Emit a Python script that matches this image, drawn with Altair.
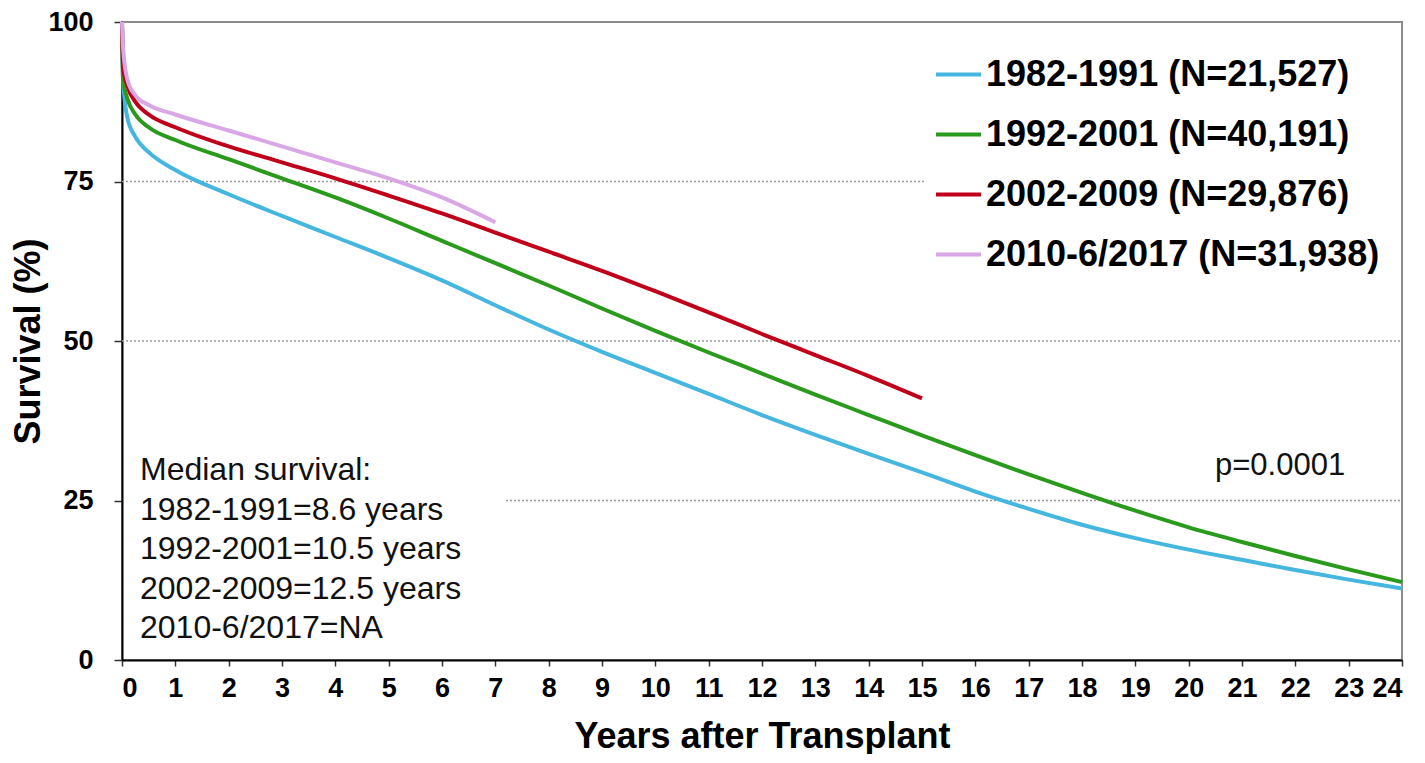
import altair as alt
import pandas as pd

# ---- data ----
series_names = [
    "1982-1991 (N=21,527)",
    "1992-2001 (N=40,191)",
    "2002-2009 (N=29,876)",
    "2010-6/2017 (N=31,938)",
]
series_colors = ["#45B6E0", "#2A9A1C", "#C0001A", "#D9A6E6"]
series_widths = [4, 4, 4, 3]

blue_x = [0, 0.02, 0.1, 0.25, 0.5, 1, 2, 3, 4, 5, 6, 7, 8, 9, 10, 11, 12, 13, 14, 15, 16, 17, 18, 19, 20, 21, 22, 23, 24]
blue_y = [100, 91, 85, 82, 79.6, 76.8, 73, 69.6, 66.3, 63, 59.5, 55.6, 51.8, 48.3, 45, 41.7, 38.4, 35.3, 32.3, 29.4, 26.4, 23.7, 21.2, 19.1, 17.3, 15.7, 14.1, 12.6, 11.2]

green_x = [0, 0.02, 0.1, 0.25, 0.5, 1, 2, 3, 4, 5, 6, 7, 8, 9, 10, 11, 12, 13, 14, 15, 16, 17, 18, 19, 20, 21, 22, 23, 24]
green_y = [100, 91, 88, 85.5, 83.5, 81.5, 78.5, 75.5, 72.5, 69.2, 65.7, 62.2, 58.7, 55.1, 51.6, 48.2, 44.9, 41.6, 38.4, 35.2, 32.1, 29.1, 26.2, 23.4, 20.8, 18.5, 16.3, 14.2, 12.2]

red_x = [0, 0.02, 0.1, 0.25, 0.5, 1, 2, 3, 4, 5, 6, 7, 8, 9, 10, 11, 12, 13, 14, 15]
red_y = [100, 93, 90, 87.5, 85.5, 83.5, 80.5, 78, 75.5, 72.8, 70, 67, 64, 61, 57.8, 54.5, 51.1, 47.8, 44.5, 41]

pink_x = [0, 0.02, 0.1, 0.25, 0.5, 1, 2, 3, 4, 5, 6, 7]
pink_y = [100, 96, 91, 88.5, 87, 85.5, 83, 80.5, 78, 75.5, 72.5, 68.6]

grid_values = [25, 50, 75]
grid_start = [7.2, 0, 0]
grid_end = [24, 24, 15.06]

median_text = "Median survival:\n1982-1991=8.6 years\n1992-2001=10.5 years\n2002-2009=12.5 years\n2010-6/2017=NA"
p_text = "p=0.0001"

x_ticks = list(range(0, 25))
y_ticks = [0, 25, 50, 75, 100]

# ---- build tables ----
rows = []
for name, xs, ys in zip(series_names, [blue_x, green_x, red_x, pink_x], [blue_y, green_y, red_y, pink_y]):
    for i, (a, b) in enumerate(zip(xs, ys)):
        rows.append({"series": name, "years": a, "survival": b, "order": i})
df = pd.DataFrame(rows)
grid_df = pd.DataFrame({"y": grid_values, "x0": grid_start, "x1": grid_end})

W, H = 1280, 638
FONT = "Liberation Sans"

xscale = alt.Scale(domain=[0, 24], nice=False, zero=False)
yscale = alt.Scale(domain=[0, 100], nice=False)

grid = alt.Chart(grid_df).mark_rule(color="#9a9a9a", strokeWidth=1.6, strokeDash=[2, 2]).encode(
    x=alt.X("x0:Q", scale=xscale),
    x2="x1:Q",
    y=alt.Y("y:Q", scale=yscale),
)

lines = alt.Chart(df).mark_line(interpolate="monotone").encode(
    x=alt.X(
        "years:Q",
        scale=xscale,
        axis=alt.Axis(
            values=x_ticks, title="Years after Transplant", grid=False,
            labelFontSize=27, labelFont=FONT, labelFontWeight="bold", labelColor="black",
            tickSize=6, tickColor="#333", tickWidth=1.5, labelPadding=9,
            domainColor="black", domainWidth=2,
            titleFontSize=36, titleFont=FONT, titleFontWeight="bold", titleColor="black",
            titlePadding=18,
        ),
    ),
    y=alt.Y(
        "survival:Q",
        scale=yscale,
        axis=alt.Axis(
            values=y_ticks, title="Survival (%)", grid=False,
            labelFontSize=27, labelFont=FONT, labelFontWeight="bold", labelColor="black",
            tickSize=8, tickColor="#333", tickWidth=1.5, labelPadding=21,
            domainColor="black", domainWidth=2,
            titleFontSize=36, titleFont=FONT, titleFontWeight="bold", titleColor="black",
            titlePadding=0,
        ),
    ),
    color=alt.Color(
        "series:N",
        scale=alt.Scale(domain=series_names, range=series_colors),
        sort=series_names,
        legend=alt.Legend(
            orient="none", legendX=800, legendY=16, title=None,
            symbolType="stroke", symbolSize=2025, symbolStrokeWidth=4,
            labelFontSize=36, labelFont=FONT, labelFontWeight="bold", labelColor="black",
            rowPadding=17, padding=12, labelOffset=3, labelLimit=700,
        ),
    ),
    strokeWidth=alt.StrokeWidth(
        "series:N", scale=alt.Scale(domain=series_names, range=series_widths), legend=None
    ),
    order="order:Q",
)

median = alt.Chart(pd.DataFrame({"t": [median_text]})).mark_text(
    align="left", baseline="alphabetic", lineBreak="\n", lineHeight=39.5,
    fontSize=32, font=FONT, color="#111",
).encode(x=alt.value(18), y=alt.value(458), text="t:N")

ptext = alt.Chart(pd.DataFrame({"t": [p_text]})).mark_text(
    align="left", baseline="alphabetic", fontSize=31, font=FONT, color="#111",
).encode(x=alt.value(1093), y=alt.value(453), text="t:N")

chart = alt.layer(grid, lines, median, ptext).properties(
    width=W, height=H,
    autosize=alt.AutoSizeParams(type="none"),
    padding={"left": 114, "top": 14, "right": 10, "bottom": 94},
    background="white",
).configure_view(stroke="#8c8c8c", strokeWidth=2)

chart.save("out.html", embed_options={"renderer": "svg", "actions": False})
